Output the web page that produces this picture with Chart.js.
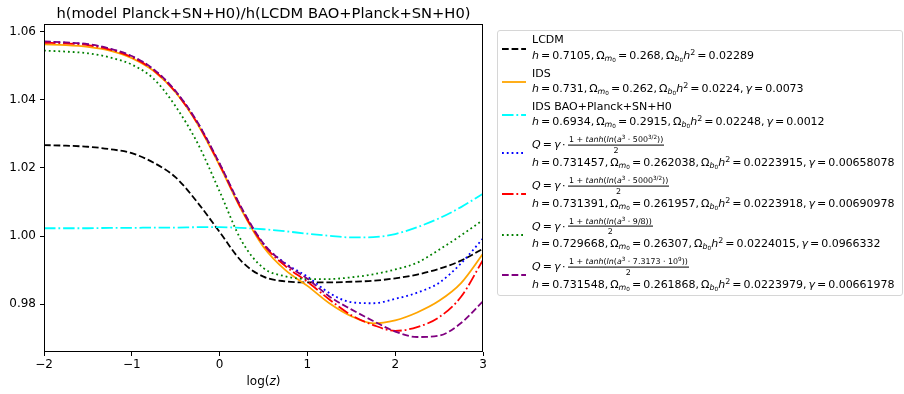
<!DOCTYPE html>
<html>
<head>
<meta charset="utf-8">
<script src="https://cdn.jsdelivr.net/npm/chart.js@4.4.0/dist/chart.umd.min.js"></script>
<style>
  body { margin: 0; background: #fff; font-family: 'DejaVu Sans', sans-serif; color: #000; }
  #wrap { position: relative; width: 904px; height: 394px; overflow: hidden; }
  #title { position: absolute; left: 44px; width: 439px; top: 5px; text-align: center; font-size: 14.7px; line-height: 16px; white-space: nowrap; }
  #xlabel { position: absolute; left: 44px; width: 439px; top: 374px; text-align: center; font-size: 12px; line-height: 14px; }
  #legend { position: absolute; left: 497px; top: 30px; width: 406px; height: 266px; border: 1px solid #d6d6d6; border-radius: 3px; box-sizing: border-box; }
  .row { position: absolute; left: 34px; white-space: nowrap; font-size: 11px; line-height: 1; transform: translateY(-50%); }
  .math { word-spacing: -1.5px; }
  .handle { position: absolute; left: 3px; }
  .sb { font-size: 0.72em; position: relative; top: 0.28em; }
  .sb2 { font-size: 0.72em; position: relative; top: 0.2em; }
  .sp { font-size: 0.72em; position: relative; top: -0.45em; }
  .dot { margin: 0 1.5px; }
  .frac { display: inline-flex; flex-direction: column; align-items: center; vertical-align: middle; font-size: 7.9px; line-height: 1; margin-left: 1px; word-spacing: 0; }
  .frac .num { border-bottom: 0.8px solid #000; padding: 0 1px 1px; }
  .frac .den { padding-top: 1px; }
</style>
</head>
<body>
<div id="wrap">
  <canvas id="chart" width="904" height="394"></canvas>
  <div id="title">h(model Planck+SN+H0)/h(LCDM BAO+Planck+SN+H0)</div>
  <div id="xlabel">log(<i>z</i>)</div>
  <div id="legend"></div>
</div>
<script>
// log(z) sample points
const logZ = [-2, -1.75, -1.5, -1.25, -1, -0.75, -0.5, -0.25, 0, 0.25, 0.5, 0.75, 1, 1.25, 1.5, 1.75, 2, 2.25, 2.5, 2.75, 3];

const lcdm = [1.0267, 1.0265, 1.0262, 1.0255, 1.0243, 1.0215, 1.0172, 1.0098, 1.0012, 0.9926, 0.9881, 0.9867, 0.9864, 0.9864, 0.9866, 0.9869, 0.9876, 0.9887, 0.9904, 0.9928, 0.9963];
const ids = [1.0562, 1.0560, 1.0555, 1.0544, 1.0522, 1.0484, 1.0421, 1.0328, 1.0207, 1.0076, 0.9968, 0.9900, 0.9854, 0.9803, 0.9765, 0.9744, 0.9753, 0.9776, 0.9810, 0.9862, 0.9948];
const idsBao = [1.0023, 1.0023, 1.0023, 1.0024, 1.0024, 1.0025, 1.0025, 1.0026, 1.0026, 1.0024, 1.0020, 1.0014, 1.0007, 1.0001, 0.9996, 0.9997, 1.0006, 1.0026, 1.0052, 1.0085, 1.0124];
const q500 = [1.0570, 1.0567, 1.0562, 1.0549, 1.0527, 1.0488, 1.0424, 1.0332, 1.0212, 1.0081, 0.9977, 0.9920, 0.9881, 0.9833, 0.9806, 0.9803, 0.9816, 0.9834, 0.9863, 0.9920, 0.9993];
const q5000 = [1.0567, 1.0565, 1.0560, 1.0547, 1.0525, 1.0486, 1.0422, 1.0330, 1.0210, 1.0079, 0.9975, 0.9912, 0.9866, 0.9814, 0.9768, 0.9739, 0.9722, 0.9733, 0.9762, 0.9822, 0.9930];
const q98 = [1.0544, 1.0541, 1.0536, 1.0524, 1.0503, 1.0461, 1.0380, 1.0272, 1.0131, 0.9986, 0.9906, 0.9882, 0.9874, 0.9874, 0.9879, 0.9888, 0.9902, 0.9922, 0.9960, 1.0002, 1.0047];
const q73e9 = [1.0571, 1.0568, 1.0563, 1.0550, 1.0528, 1.0489, 1.0425, 1.0333, 1.0213, 1.0083, 0.9978, 0.9918, 0.9875, 0.9823, 0.9785, 0.9751, 0.9720, 0.9704, 0.9708, 0.9745, 0.9809];

const xTicks = [-2, -1, 0, 1, 2, 3];
const yTicks = [0.98, 1.00, 1.02, 1.04, 1.06];

// matplotlib-like dash patterns for a 1.8px line
const DASHED = [6.7, 2.9];
const DOTTED = [1.8, 3.0];
const DASHDOT = [11.5, 2.9, 1.8, 2.9];

const om = (s) => `&Omega;<span class="sb"><i>${s}</i><span class="sb2">0</span></span>`;
const params = (h, m, b, g) =>
  `<i>h</i> = ${h}, ${om('m')} = ${m}, ${om('b')}<i>h</i><span class="sp">2</span> = ${b}` + (g ? `, <i>&gamma;</i> = ${g}` : '');
const qLabel = (inner) =>
  `<i>Q</i> = <i>&gamma;</i><span class="dot">&middot;</span><span class="frac"><span class="num">1 + <i>tanh</i>(<i>ln</i>(<i>a</i><span class="sp">3</span> &middot; ${inner}))</span><span class="den">2</span></span>`;

const series = [
  { data: lcdm, color: '#000000', dash: DASHED,
    label: ['LCDM', params('0.7105', '0.268', '0.02289')], y: [39, 54.5], hy: 49 },
  { data: ids, color: '#ffa500', dash: [],
    label: ['IDS', params('0.731', '0.262', '0.0224', '0.0073')], y: [72.5, 88], hy: 82 },
  { data: idsBao, color: '#00ffff', dash: DASHDOT,
    label: ['IDS BAO+Planck+SN+H0', params('0.6934', '0.2915', '0.02248', '0.0012')], y: [106, 121], hy: 114.5 },
  { data: q500, color: '#0000ff', dash: DOTTED,
    label: [qLabel('500<span class="sp">3/2</span>'), params('0.731457', '0.262038', '0.0223915', '0.00658078')], y: [145, 161.7], hy: 153 },
  { data: q5000, color: '#ff0000', dash: DASHDOT,
    label: [qLabel('5000<span class="sp">3/2</span>'), params('0.731391', '0.261957', '0.0223918', '0.00690978')], y: [186, 202.5], hy: 194 },
  { data: q98, color: '#008000', dash: DOTTED,
    label: [qLabel('9/8'), params('0.729668', '0.26307', '0.0224015', '0.0966332')], y: [226.5, 243], hy: 235 },
  { data: q73e9, color: '#800080', dash: DASHED,
    label: [qLabel('7.3173 &middot; 10<span class="sp">9</span>'), params('0.731548', '0.261868', '0.0223979', '0.00661978')], y: [267, 283.5], hy: 275 }
];

document.addEventListener('DOMContentLoaded', function () {
  // Legend (html, beside the canvas)
  const legend = document.getElementById('legend');
  const top0 = 31;
  legend.innerHTML = series.map(s => {
    const svg = `<svg class="handle" width="26" height="6" style="top:${s.hy - top0 - 3}px">
      <line x1="1" y1="3" x2="25" y2="3" stroke="${s.color}" stroke-width="1.8" stroke-dasharray="${s.dash.join(' ') || 'none'}"/></svg>`;
    const rows = s.label.map((t, i) => {
      const cls = t.indexOf('<') >= 0 ? 'row math' : 'row';
      return `<div class="${cls}" style="top:${s.y[i] - top0}px">${t}</div>`;
    }).join('');
    return svg + rows;
  }).join('');

  const framePlugin = {
    id: 'frame',
    afterDraw(chart) {
      const { ctx, chartArea: a } = chart;
      ctx.save();
      ctx.strokeStyle = '#000';
      ctx.lineWidth = 1;
      ctx.strokeRect(Math.round(a.left) + 0.5, Math.round(a.top) + 0.5,
        Math.round(a.right - a.left) - 1, Math.round(a.bottom - a.top) - 1);
      ctx.restore();
    }
  };

  const tickFont = { family: 'DejaVu Sans', size: 12 };

  new Chart(document.getElementById('chart'), {
    type: 'line',
    data: {
      datasets: series.map((s, i) => ({
        label: i,
        data: logZ.map((x, k) => ({ x: x, y: s.data[k] })),
        borderColor: s.color,
        borderDash: s.dash,
        borderWidth: 1.8,
        borderCapStyle: 'butt',
        pointRadius: 0,
        fill: false,
        cubicInterpolationMode: 'monotone',
        order: series.length - i
      }))
    },
    options: {
      responsive: false,
      animation: false,
      devicePixelRatio: 1,
      layout: { padding: { top: 24, right: 421, left: 0, bottom: 0 } },
      plugins: { legend: { display: false }, tooltip: { enabled: false } },
      scales: {
        x: {
          type: 'linear', min: -2, max: 3,
          afterBuildTicks: (axis) => { axis.ticks = xTicks.map(v => ({ value: v })); },
          afterFit: (axis) => { axis.height = 42; },
          ticks: {
            font: tickFont, color: '#000', padding: 2, maxRotation: 0,
            callback: (v) => (v < 0 ? '\u2212' + Math.abs(v) : String(v))
          },
          grid: { drawOnChartArea: false, drawTicks: true, tickLength: 4, color: '#000' },
          border: { display: false }
        },
        y: {
          type: 'linear', min: 0.9660, max: 1.0622,
          afterBuildTicks: (axis) => { axis.ticks = yTicks.map(v => ({ value: v })); },
          afterFit: (axis) => { axis.width = 44; },
          ticks: {
            font: tickFont, color: '#000', padding: 4,
            callback: (v) => v.toFixed(2)
          },
          grid: { drawOnChartArea: false, drawTicks: true, tickLength: 4, color: '#000' },
          border: { display: false }
        }
      }
    },
    plugins: [framePlugin]
  });
});
</script>
</body>
</html>
